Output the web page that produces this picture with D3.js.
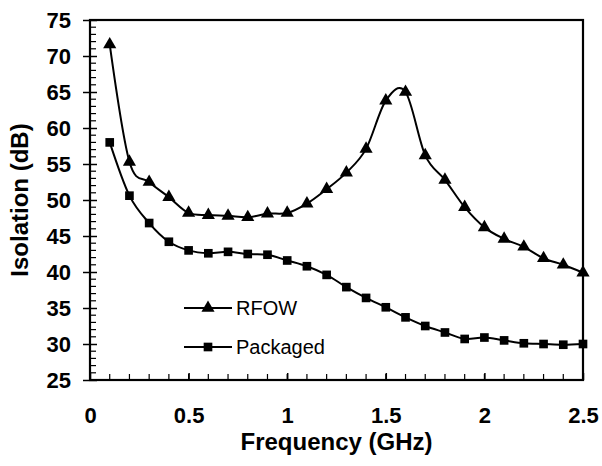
<!DOCTYPE html>
<html>
<head>
<meta charset="utf-8">
<script src="https://cdn.jsdelivr.net/npm/d3@7"></script>
<style>
body { margin: 0; background: #fff; }
text { font-family: Arial, "Liberation Sans", sans-serif; }
</style>
</head>
<body>
<script>
// frequencies in GHz
var freq = [0.1, 0.2, 0.3, 0.4, 0.5, 0.6, 0.7, 0.8, 0.9, 1.0, 1.1, 1.2, 1.3,
            1.4, 1.5, 1.6, 1.7, 1.8, 1.9, 2.0, 2.1, 2.2, 2.3, 2.4, 2.5];
var rfow = [71.6, 55.3, 52.5, 50.4, 48.2, 47.9, 47.8, 47.6, 48.1, 48.2, 49.5, 51.5,
            53.8, 57.1, 63.8, 65.0, 56.2, 52.8, 49.0, 46.2, 44.6, 43.5, 41.9, 41.0, 39.9];
var packaged = [58.0, 50.6, 46.8, 44.2, 43.0, 42.6, 42.8, 42.5, 42.4, 41.6, 40.8, 39.6,
                37.9, 36.4, 35.1, 33.7, 32.5, 31.6, 30.7, 30.9, 30.5, 30.1, 30.0, 29.9, 30.0];
var xTicks = [0, 0.5, 1, 1.5, 2, 2.5];
var yTicks = [25, 30, 35, 40, 45, 50, 55, 60, 65, 70, 75];

var W = 602, H = 466;
var margin = {top: 20, right: 19, bottom: 86, left: 90},
    width = W - margin.left - margin.right,
    height = H - margin.top - margin.bottom;

var svg = d3.select("body").append("svg")
    .attr("width", W)
    .attr("height", H);

var g = svg.append("g")
    .attr("transform", "translate(" + margin.left + "," + margin.top + ")");

var x = d3.scaleLinear().domain([0, 2.5]).range([0, width]);
var y = d3.scaleLinear().domain([25, 75]).range([height, 0]);

// minor ticks
g.append("g")
    .selectAll("line")
    .data(d3.range(26, 75, 1).filter(function(d) { return d % 5 != 0; }))
    .enter().append("line")
    .attr("x1", 0).attr("x2", 6)
    .attr("y1", function(d) { return y(d); })
    .attr("y2", function(d) { return y(d); })
    .attr("stroke", "#000").attr("stroke-width", 1.2);

g.append("g")
    .selectAll("line")
    .data(d3.range(1, 25).map(function(d) { return d / 10; }))
    .enter().append("line")
    .attr("x1", function(d) { return x(d); })
    .attr("x2", function(d) { return x(d); })
    .attr("y1", height).attr("y2", height - 6)
    .attr("stroke", "#000").attr("stroke-width", 1.2);

// y axis, major ticks cross the axis
var yAxis = g.append("g")
    .call(d3.axisLeft(y).tickValues(yTicks).tickSize(7).tickPadding(5).tickSizeOuter(0));
yAxis.selectAll(".tick line").attr("x2", 7).attr("x1", -7).attr("stroke-width", 1.5);
yAxis.select(".domain").remove();
yAxis.selectAll("text")
    .attr("font-size", 22).attr("font-weight", "bold")
    .attr("font-family", "Arial, 'Liberation Sans', sans-serif")
    .attr("dy", "0.36em").attr("x", -19);

var xAxis = g.append("g")
    .attr("transform", "translate(0," + height + ")")
    .call(d3.axisBottom(x).tickValues(xTicks).tickFormat(d3.format("~g"))
        .tickSize(0).tickPadding(0).tickSizeOuter(0));
xAxis.selectAll(".tick line").attr("y2", -7).attr("stroke-width", 1.5);
xAxis.select(".domain").remove();
xAxis.selectAll("text")
    .attr("font-size", 22).attr("font-weight", "bold")
    .attr("font-family", "Arial, 'Liberation Sans', sans-serif")
    .attr("y", 43).attr("dy", 0);

// frame
g.append("rect")
    .attr("x", 0).attr("y", 0)
    .attr("width", width).attr("height", height)
    .attr("fill", "none").attr("stroke", "#000").attr("stroke-width", 2.2);

var line = d3.line()
    .x(function(d) { return x(d[0]); })
    .y(function(d) { return y(d[1]); })
    .curve(d3.curveCatmullRom.alpha(0));

var series = [
    {name: "RFOW", vals: rfow, shape: d3.symbolTriangle, size: 75},
    {name: "Packaged", vals: packaged, shape: d3.symbolSquare, size: 75}
];

series.forEach(function(s) {
    var pts = freq.map(function(f, i) { return [f, s.vals[i]]; });
    g.append("path")
        .datum(pts)
        .attr("fill", "none")
        .attr("stroke", "#000")
        .attr("stroke-width", 2)
        .attr("d", line);
    g.selectAll(".m-" + s.name)
        .data(pts)
        .enter().append("path")
        .attr("transform", function(d) { return "translate(" + x(d[0]) + "," + y(d[1]) + ")"; })
        .attr("d", d3.symbol().type(s.shape).size(s.size))
        .attr("fill", "#000");
});

// legend
var legend = svg.append("g");
series.forEach(function(s, i) {
    var ly = 308 + i * 39;
    legend.append("line")
        .attr("x1", 184).attr("x2", 232)
        .attr("y1", ly).attr("y2", ly)
        .attr("stroke", "#000").attr("stroke-width", 2);
    legend.append("path")
        .attr("transform", "translate(208," + ly + ")")
        .attr("d", d3.symbol().type(s.shape).size(s.size))
        .attr("fill", "#000");
    legend.append("text")
        .attr("x", 236).attr("y", ly + 7)
        .attr("font-size", 20)
        .text(s.name);
});

// axis titles
svg.append("text")
    .attr("x", margin.left + width / 2).attr("y", 450)
    .attr("text-anchor", "middle")
    .attr("font-size", 24).attr("font-weight", "bold")
    .text("Frequency (GHz)");

svg.append("text")
    .attr("transform", "translate(28," + (margin.top + height / 2) + ") rotate(-90)")
    .attr("text-anchor", "middle")
    .attr("font-size", 24).attr("font-weight", "bold")
    .text("Isolation (dB)");
</script>
</body>
</html>
